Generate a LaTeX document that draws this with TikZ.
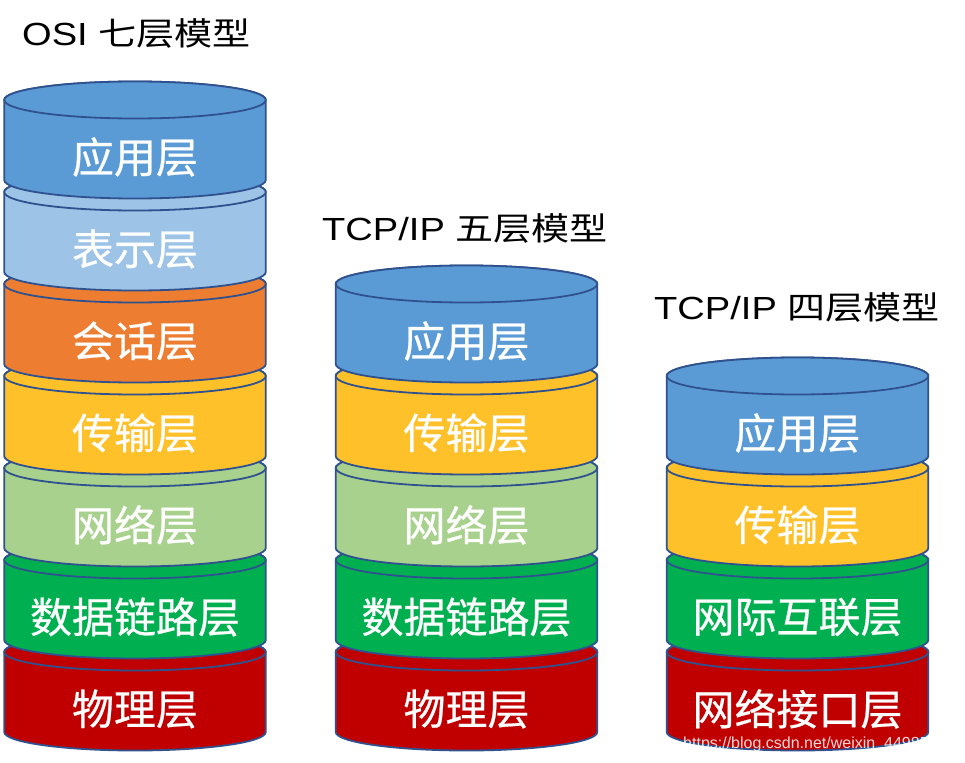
\documentclass[tikz,border=0pt]{standalone}
\usepackage{fontspec}
\setmainfont{Liberation Sans}
\newfontfamily\cjk{Noto Sans CJK SC}
\newfontfamily\cjkb[FakeBold=0.5]{Noto Sans CJK SC}
\definecolor{edge}{HTML}{2F528F}
\definecolor{cblue}{HTML}{5B9BD5}
\definecolor{clblue}{HTML}{9DC3E6}
\definecolor{corange}{HTML}{ED7D31}
\definecolor{cgold}{HTML}{FFC12A}
\definecolor{clgreen}{HTML}{A9D18E}
\definecolor{cgreen}{HTML}{00B050}
\definecolor{cred}{HTML}{C00000}
\newcommand\stacklayer[5]{%
  \path[layerbody, fill=#3] (#1-130.8,#2) -- (#1-130.8,#2+80)
    arc[start angle=180,end angle=360,x radius=130.8pt,y radius=18.5pt]
    -- (#1+130.8,#2)
    arc[start angle=0,end angle=180,x radius=130.8pt,y radius=18.5pt] -- cycle;
  \path[layerbody, fill=#3] (#1,#2) ellipse[x radius=130.8pt,y radius=18.5pt];
  \node[lbl] (#4) at (#1,#2+57) {#5};
}
\newcommand\ttltext[1]{\scalebox{1.19}[1]{#1}}
\begin{document}
\begin{tikzpicture}[x=1pt,y=-1pt,
  layerbody/.style={draw=edge, line width=1.8pt, line join=round},
  lbl/.style={text=white, font=\cjkb\fontsize{42}{42}\selectfont, inner sep=0pt},
  ttl/.style={text=black, inner sep=0pt, font=\fontsize{32}{32}\selectfont}]
\useasboundingbox (0,0) rectangle (965,762);
\fill[white] (0,0) rectangle (965,762);

% OSI seven layers (bottom first)
\stacklayer{135}{652}{cred}{osi7}{物理层}
\stacklayer{135}{560}{cgreen}{osi6}{数据链路层}
\stacklayer{135}{468}{clgreen}{osi5}{网络层}
\stacklayer{135}{376}{cgold}{osi4}{传输层}
\stacklayer{135}{284}{corange}{osi3}{会话层}
\stacklayer{135}{192}{clblue}{osi2}{表示层}
\stacklayer{135}{100}{cblue}{osi1}{应用层}

% TCP/IP five layers
\stacklayer{466.5}{652}{cred}{five5}{物理层}
\stacklayer{466.5}{560}{cgreen}{five4}{数据链路层}
\stacklayer{466.5}{468}{clgreen}{five3}{网络层}
\stacklayer{466.5}{376}{cgold}{five2}{传输层}
\stacklayer{466.5}{284}{cblue}{five1}{应用层}

% TCP/IP four layers
\stacklayer{797.5}{652}{cred}{four4}{网络接口层}
\stacklayer{797.5}{560}{cgreen}{four3}{网际互联层}
\stacklayer{797.5}{468}{cgold}{four2}{传输层}
\stacklayer{797.5}{376}{cblue}{four1}{应用层}

% titles
\node[ttl, anchor=west] (t1) at (22,33) {\ttltext{OSI {\cjk 七层模型}}};
\node[ttl, anchor=west] (t2) at (322,228) {\ttltext{TCP/IP {\cjk 五层模型}}};
\node[ttl, anchor=west] (t3) at (654,307) {\ttltext{TCP/IP {\cjk 四层模型}}};

% watermark
\node[anchor=base west, inner sep=0pt, text=white, opacity=0.85,
  font=\fontsize{16}{16}\selectfont] (wm) at (683,748) {https://blog.csdn.net/weixin\_44985};
\end{tikzpicture}
\end{document}
